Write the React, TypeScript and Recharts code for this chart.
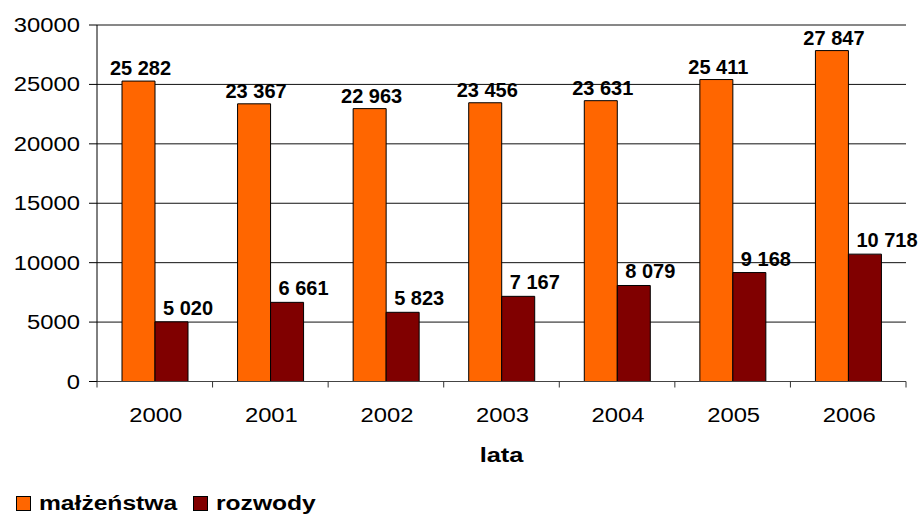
import React from 'react';
import { BarChart, Bar, XAxis, YAxis, CartesianGrid, Legend, LabelList } from 'recharts';

const years = ['2000', '2001', '2002', '2003', '2004', '2005', '2006'];
const malzenstwa = [25282, 23367, 22963, 23456, 23631, 25411, 27847];
const rozwody = [5020, 6661, 5823, 7167, 8079, 9168, 10718];
const yTicks = [0, 5000, 10000, 15000, 20000, 25000, 30000];

const data = years.map((y, i) => ({ year: y, malzenstwa: malzenstwa[i], rozwody: rozwody[i] }));

const W = 918;
const H = 514;
const MARGIN = { top: 25, right: 12, left: 0, bottom: 0 };
const Y_AXIS_W = 97;
const LEGEND_H = 24;
const X_AXIS_H = 108.5;
const PLOT_W = W - MARGIN.left - MARGIN.right - Y_AXIS_W;
const BAND = PLOT_W / years.length;

const FONT = '"Liberation Sans", Arial, sans-serif';
const ORANGE = '#FF6600';
const DARKRED = '#800000';
const STRETCH = 1.19;

const fmt = (v: number) => String(v).replace(/\B(?=(\d{3})+(?!\d))/g, ' ');

const XTick = (props: any) => {
  const { x, y, payload, index } = props;
  const left = x - BAND / 2;
  const right = x + BAND / 2;
  return (
    <g>
      <line x1={left} y1={y} x2={left} y2={y + 6} stroke="#333" strokeWidth={1} />
      {index === years.length - 1 && (
        <line x1={right} y1={y} x2={right} y2={y + 6} stroke="#333" strokeWidth={1} />
      )}
      <text
        transform={`translate(${x + 1},${y + 40}) scale(${STRETCH},1)`}
        textAnchor="middle"
        fontFamily={FONT}
        fontSize={20}
        fill="#000"
      >
        {payload.value}
      </text>
    </g>
  );
};

const YTick = (props: any) => {
  const { x, y, payload } = props;
  return (
    <text
      transform={`translate(${x},${y + 7}) scale(${STRETCH},1)`}
      textAnchor="end"
      fontFamily={FONT}
      fontSize={20}
      fill="#000"
    >
      {payload.value}
    </text>
  );
};

const OrangeLabel = (props: any) => {
  const { x, y, width, value } = props;
  return (
    <text x={x + width / 2 + 2} y={y - 6} textAnchor="middle" fontFamily={FONT} fontSize={20} fontWeight="bold" fill="#000">
      {fmt(value)}
    </text>
  );
};

const RedLabel = (props: any) => {
  const { x, y, value } = props;
  return (
    <text x={x + 8} y={y - 7} textAnchor="start" fontFamily={FONT} fontSize={20} fontWeight="bold" fill="#000">
      {fmt(value)}
    </text>
  );
};

const LegendContent = (props: any) => {
  const { payload } = props;
  return (
    <div style={{ position: 'relative', height: LEGEND_H, fontFamily: FONT }}>
      {(payload || []).map((p: any, i: number) => (
        <div
          key={i}
          style={{
            position: 'absolute',
            left: i === 0 ? 16 : 193,
            top: 0,
            display: 'flex',
            alignItems: 'center',
            height: LEGEND_H,
            whiteSpace: 'nowrap',
          }}
        >
          <span
            style={{
              display: 'inline-block',
              width: 13,
              height: 13,
              background: p.color,
              border: '1px solid #000',
              marginRight: 8,
            }}
          />
          <span
            style={{
              display: 'inline-block',
              fontSize: 20,
              fontWeight: 'bold',
              color: '#000',
              transform: 'scaleX(1.23)',
              transformOrigin: 'left center',
            }}
          >
            {p.value}
          </span>
        </div>
      ))}
    </div>
  );
};

export default function App() {
  return (
    <div style={{ position: 'absolute', left: 0, top: 0, width: W, height: H, background: '#fff' }}>
      <BarChart width={W} height={H} data={data} margin={MARGIN} barGap={0} barSize={33}>
        <CartesianGrid vertical={false} stroke="#111" strokeWidth={1} />
        <XAxis
          dataKey="year"
          height={X_AXIS_H}
          tickLine={false}
          tickSize={0}
          tickMargin={0}
          axisLine={{ stroke: '#444', strokeWidth: 1 }}
          tick={<XTick />}
          interval={0}
          label={(lp: any) => {
            const vb = lp.viewBox || {};
            return (
              <text
                transform={`translate(${vb.x + vb.width / 2},${vb.y + 80}) scale(1.27,1)`}
                textAnchor="middle"
                fontFamily={FONT}
                fontSize={20}
                fontWeight="bold"
                fill="#000"
              >
                lata
              </text>
            );
          }}
        />
        <YAxis
          width={Y_AXIS_W}
          domain={[0, 30000]}
          ticks={yTicks}
          interval={0}
          tickSize={8}
          tickMargin={9}
          axisLine={{ stroke: '#000', strokeWidth: 1 }}
          tickLine={{ stroke: '#000', strokeWidth: 1 }}
          tick={<YTick />}
        />
        <Legend
          verticalAlign="bottom"
          content={<LegendContent />}
          wrapperStyle={{ position: 'absolute', left: 0, top: H - LEGEND_H + 1, width: 400, height: LEGEND_H }}
        />
        <Bar dataKey="malzenstwa" name="małżeństwa" fill={ORANGE} stroke="#000" strokeWidth={1} isAnimationActive={false}>
          <LabelList dataKey="malzenstwa" content={<OrangeLabel />} />
        </Bar>
        <Bar dataKey="rozwody" name="rozwody" fill={DARKRED} stroke="#000" strokeWidth={1} isAnimationActive={false}>
          <LabelList dataKey="rozwody" content={<RedLabel />} />
        </Bar>
      </BarChart>
    </div>
  );
}
